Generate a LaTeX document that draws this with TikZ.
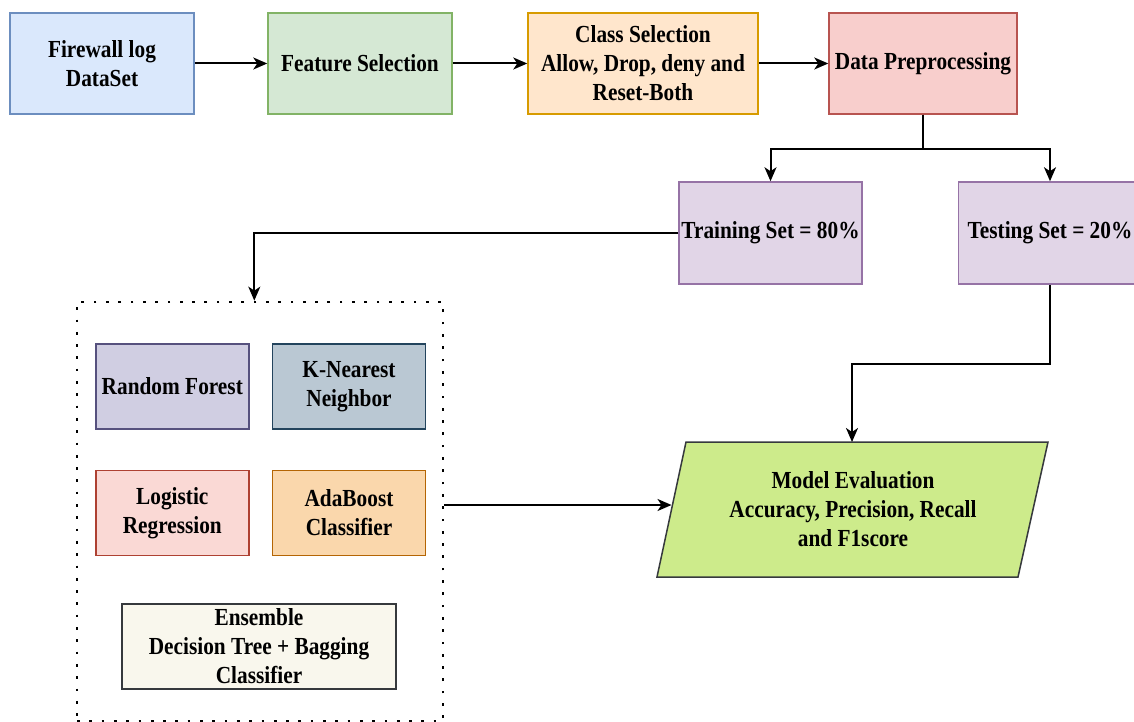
\documentclass[tikz,border=0pt]{standalone}
\usepackage{fontspec}
\setmainfont{Liberation Serif}[FakeStretch=0.87]
\usetikzlibrary{arrows.meta}
\definecolor{fBlue}{HTML}{DAE8FC}\definecolor{sBlue}{HTML}{6C8EBF}
\definecolor{fGreen}{HTML}{D5E8D4}\definecolor{sGreen}{HTML}{82B366}
\definecolor{fOrange}{HTML}{FFE6CC}\definecolor{sOrange}{HTML}{D79B00}
\definecolor{fRed}{HTML}{F8CECC}\definecolor{sRed}{HTML}{B85450}
\definecolor{fPurple}{HTML}{E1D5E7}\definecolor{sPurple}{HTML}{9673A6}
\definecolor{fRF}{HTML}{D0CEE2}\definecolor{sRF}{HTML}{56517E}
\definecolor{fKNN}{HTML}{BAC8D3}\definecolor{sKNN}{HTML}{23445D}
\definecolor{fLR}{HTML}{FAD9D5}\definecolor{sLR}{HTML}{AE4132}
\definecolor{fAda}{HTML}{FAD7AC}\definecolor{sAda}{HTML}{B46504}
\definecolor{fEns}{HTML}{F9F7ED}\definecolor{sEns}{HTML}{36393D}
\definecolor{fEval}{HTML}{CDEB8B}
\begin{document}
\begin{tikzpicture}[x=1pt,y=-1pt,
  box/.style={draw=#1, line width=1.5pt, minimum height=101pt, align=center,
    inner sep=1pt, font=\bfseries\fontsize{24.5}{29}\selectfont},
  arr/.style={line width=2pt, -{Stealth[length=14pt,width=12pt,inset=4pt]}}]
\useasboundingbox (0,0) rectangle (1134,722);
\node[box=sBlue, fill=fBlue, minimum width=184pt] (b1) at (102,63.5) {Firewall log\\DataSet};
\node[box=sGreen, fill=fGreen, minimum width=184pt] (b2) at (360,63.5) {Feature Selection};
\node[box=sOrange, fill=fOrange, minimum width=230pt] (b3) at (643,63.5) {Class Selection\\Allow, Drop, deny and\\Reset-Both};
\node[box=sRed, fill=fRed, minimum width=188pt] (b4) at (923,63.5) {Data Preprocessing};
\node[box=sPurple, fill=fPurple, minimum width=183pt, minimum height=102pt] (train) at (770.5,233) {Training Set = 80\%};
\node[box=sPurple, fill=fPurple, minimum width=183pt, minimum height=102pt] (test) at (1050,233) {Testing Set = 20\%};
\node[draw, line width=2.7pt, dash pattern=on 2.7pt off 9.6pt, minimum width=366pt, minimum height=419pt] (ml) at (260,511.5) {};
\node[box=sRF, fill=fRF, minimum width=153pt, minimum height=85pt] (rf) at (172.3,386.5) {Random Forest};
\node[box=sKNN, fill=fKNN, minimum width=153pt, minimum height=85pt] (knn) at (349,386.5) {K-Nearest\\Neighbor};
\node[box=sLR, fill=fLR, minimum width=153pt, minimum height=85pt] (lr) at (172.3,513) {Logistic\\Regression};
\node[box=sAda, fill=fAda, minimum width=153pt, minimum height=85pt] (ada) at (349,513) {AdaBoost\\Classifier};
\node[box=sEns, fill=fEns, minimum width=274pt, minimum height=85pt] (ens) at (259,646.5) {Ensemble\\Decision Tree + Bagging\\Classifier};
\draw[draw=sEns, fill=fEval, line width=1.5pt] (686,442) -- (1048,442) -- (1018,577) -- (657,577) -- cycle;
\node[align=center, font=\bfseries\fontsize{24.5}{29}\selectfont] (eval) at (853,509) {Model Evaluation\\Accuracy, Precision, Recall\\and F1score};
\coordinate (evalL) at (671.5,505);
\coordinate (evalT) at (852,442);
\draw[arr] (b1.east) -- (b2.west);
\draw[arr] (b2.east) -- (b3.west);
\draw[arr] (b3.east) -- (b4.west);
\draw[arr] (b4.south) -- ++(0,34) -| (train.north);
\draw[arr] (b4.south) -- ++(0,34) -| (test.north);
\draw[arr] (train.west) -| ([xshift=-5.7pt]ml.north);
\draw[arr] (test.south) -- ++(0,79) -| (evalT);
\draw[arr] (ml.east |- evalL) -- (evalL);
\end{tikzpicture}
\end{document}
